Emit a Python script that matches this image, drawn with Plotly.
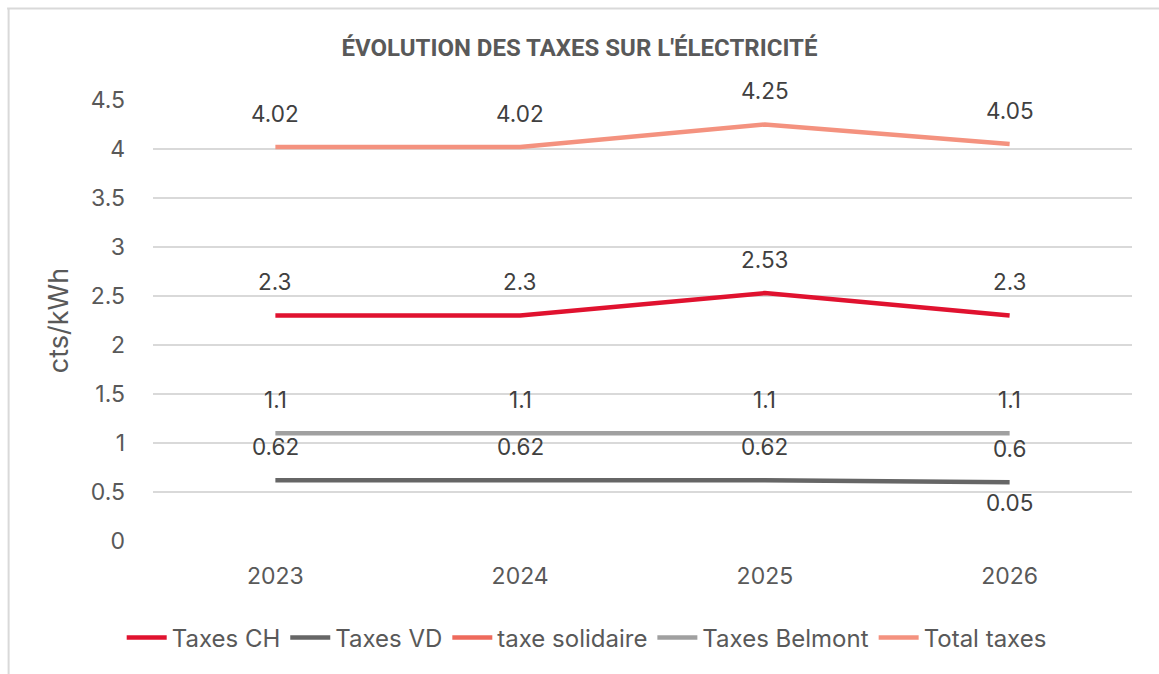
import plotly.graph_objects as go

years = ["2023", "2024", "2025", "2026"]
taxes_ch = [2.3, 2.3, 2.53, 2.3]
taxes_vd = [0.62, 0.62, 0.62, 0.6]
taxe_solidaire = [None, None, None, 0.05]
taxes_belmont = [1.1, 1.1, 1.1, 1.1]
total_taxes = [4.02, 4.02, 4.25, 4.05]

series = [
    ("Taxes CH", taxes_ch, "#E0122F"),
    ("Taxes VD", taxes_vd, "#666666"),
    ("taxe solidaire", taxe_solidaire, "#EE6A5C"),
    ("Taxes Belmont", taxes_belmont, "#A0A0A0"),
    ("Total taxes", total_taxes, "#F4927F"),
]

FONT = "Inter"
TEXT_COLOR = "#595959"

fig = go.Figure()
annotations = []
for name, vals, color in series:
    fig.add_trace(go.Scatter(
        x=years, y=vals, name=name, mode="lines",
        line=dict(color=color, width=4.5),
        connectgaps=False, hoverinfo="skip",
    ))
    # value labels above each point
    for i, v in enumerate(vals):
        if v is None:
            continue
        annotations.append(dict(
            x=i, y=v, xref="x", yref="y", text=f"{v:g}",
            showarrow=False, yshift=34,
            xanchor="center", yanchor="middle",
            font=dict(family=FONT, size=22.5, color="#404040"),
        ))

# light frame around the chart area (top and left edges)
shapes = [
    dict(type="line", xref="paper", yref="paper",
         x0=-0.149, x1=1.1, y0=1.2075, y1=1.2075,
         line=dict(color="#D9D9D9", width=2)),
    dict(type="line", xref="paper", yref="paper",
         x0=-0.1475, x1=-0.1475, y0=1.2085, y1=-0.4,
         line=dict(color="#D9D9D9", width=2)),
]

fig.update_layout(
    width=1159, height=674,
    margin=dict(l=153, r=27, t=100, b=133),
    paper_bgcolor="white", plot_bgcolor="white",
    font=dict(family=FONT, color=TEXT_COLOR),
    title=dict(
        text="<b>ÉVOLUTION DES TAXES SUR L'ÉLECTRICITÉ</b>",
        x=0.5, xref="container", xanchor="center",
        y=0.930, yref="container", yanchor="middle",
        font=dict(family="Roboto", size=24, color=TEXT_COLOR),
    ),
    xaxis=dict(
        type="category", range=[-0.5, 3.5],
        showgrid=False, showline=False, zeroline=False,
        tickfont=dict(family=FONT, size=23, color=TEXT_COLOR),
        ticklabelstandoff=19,
    ),
    yaxis=dict(
        range=[0, 4.5], dtick=0.5, tick0=0,
        showgrid=True, gridcolor="#D9D9D9", gridwidth=1.5,
        zeroline=False, showline=False,
        tickfont=dict(family=FONT, size=23, color=TEXT_COLOR),
        ticklabelstandoff=27,
        title=dict(text="cts/kWh", font=dict(family=FONT, size=27, color=TEXT_COLOR),
                   standoff=14),
    ),
    legend=dict(
        orientation="h", x=0.443, xanchor="center",
        y=-0.22, yanchor="middle",
        font=dict(family=FONT, size=24, color=TEXT_COLOR),
        itemwidth=40, tracegroupgap=0,
    ),
    annotations=annotations,
    shapes=shapes,
    showlegend=True,
)

fig.write_html("out.html")
